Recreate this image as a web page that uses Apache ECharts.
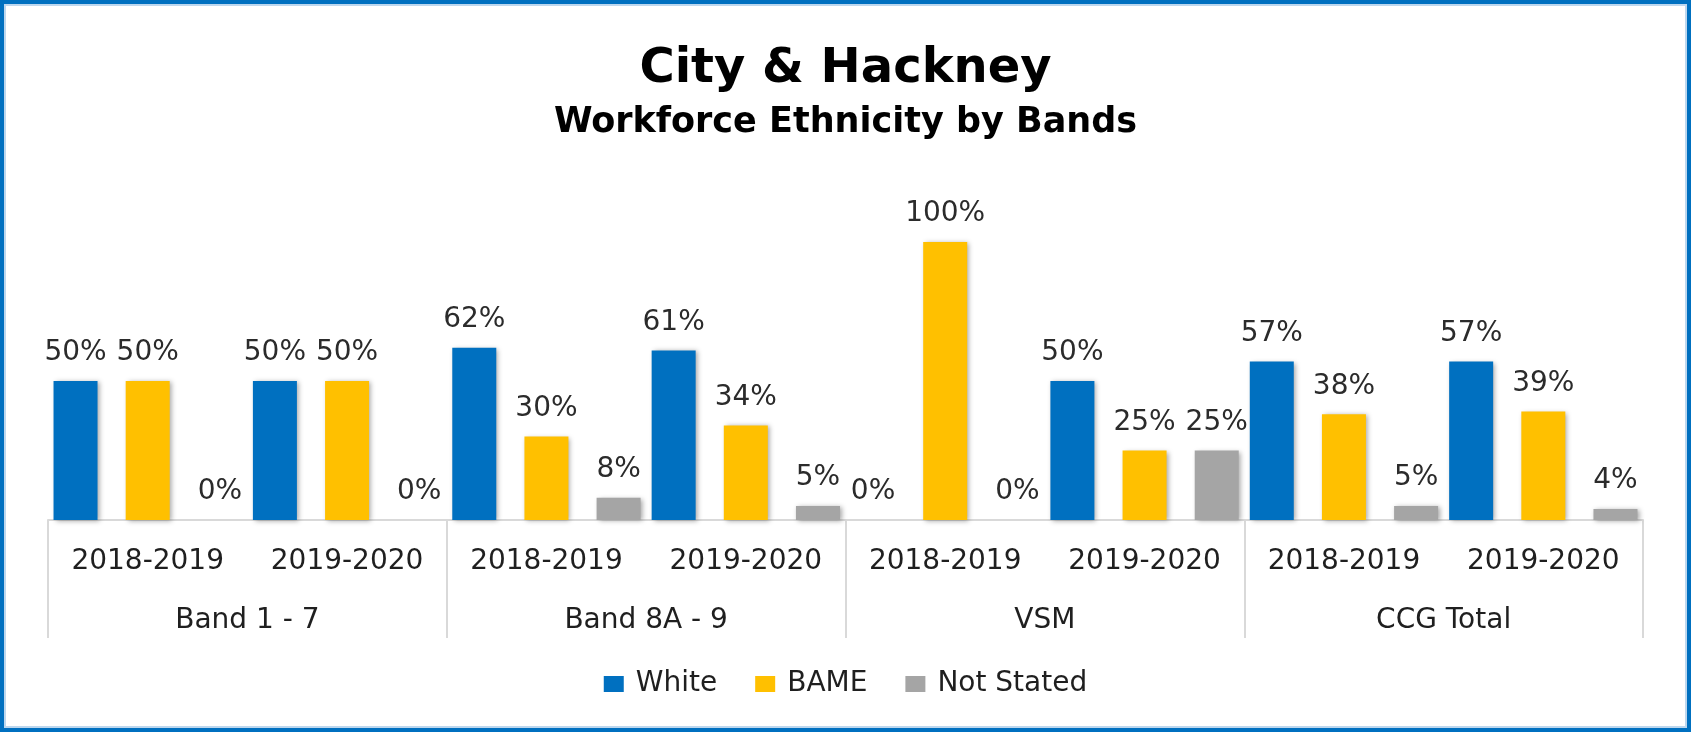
<!DOCTYPE html>
<html>
<head>
<meta charset="utf-8">
<script src="https://cdn.jsdelivr.net/npm/echarts@6/dist/echarts.min.js"></script>
<style>
  html, body { margin: 0; padding: 0; background: #fff; }
  #chart { width: 1691px; height: 732px; }
</style>
</head>
<body>
<div id="chart"></div>
<script>
// ---- data ----
const years = ['2018-2019', '2019-2020', '2018-2019', '2019-2020', '2018-2019', '2019-2020', '2018-2019', '2019-2020'];
const bands = ['Band 1 - 7', 'Band 8A - 9', 'VSM', 'CCG Total'];
const seriesNames = ['White', 'BAME', 'Not Stated'];
const white = [0.50, 0.50, 0.62, 0.61, 0.00, 0.50, 0.57, 0.57];
const bame = [0.50, 0.50, 0.30, 0.34, 1.00, 0.25, 0.38, 0.39];
const notStated = [0.00, 0.00, 0.08, 0.05, 0.00, 0.25, 0.05, 0.04];
const colors = ['#0070C0', '#FFC000', '#A5A5A5'];

const FONT = 'DejaVu Sans';
const chart = echarts.init(document.getElementById('chart'));

function barSeries(name, data, color) {
  return {
    name: name,
    type: 'bar',
    xAxisIndex: 0,
    yAxisIndex: 0,
    data: data,
    barWidth: 44,
    barGap: '64%',
    itemStyle: {
      color: color,
      shadowBlur: 5,
      shadowColor: 'rgba(0,0,0,0.35)',
      shadowOffsetX: 2,
      shadowOffsetY: 1
    },
    label: {
      show: true,
      position: 'top',
      distance: 14,
      fontFamily: FONT,
      fontSize: 28,
      color: '#2b2b2b',
      formatter: p => Math.round(p.value * 100) + '%'
    }
  };
}

chart.setOption({
  animation: false,
  backgroundColor: '#fff',
  title: [
    {
      text: 'City & Hackney',
      left: 'center',
      top: 46,
      padding: 0,
      textStyle: { fontFamily: FONT, fontWeight: 'bold', fontSize: 48, color: '#000' }
    },
    {
      text: 'Workforce Ethnicity by Bands',
      left: 'center',
      top: 105,
      padding: 0,
      textStyle: { fontFamily: FONT, fontWeight: 'bold', fontSize: 35, color: '#000' }
    }
  ],
  legend: {
    data: seriesNames,
    left: 'center',
    top: 665,
    icon: 'rect',
    itemWidth: 20,
    itemHeight: 16,
    itemGap: 38,
    textStyle: { fontFamily: FONT, fontSize: 28, color: '#1f1f1f', padding: [0, 0, 0, 7] }
  },
  grid: { left: 48, right: 48, top: 242, bottom: 212, containLabel: false },
  xAxis: [
    {
      type: 'category',
      data: years,
      position: 'bottom',
      axisLine: { show: true, lineStyle: { color: '#D9D9D9', width: 2 } },
      axisTick: { show: false },
      axisLabel: { margin: 28, fontFamily: FONT, fontSize: 28, color: '#1f1f1f', interval: 0 }
    },
    {
      type: 'category',
      data: bands,
      position: 'bottom',
      axisLine: { show: false },
      axisTick: { show: true, length: 118, lineStyle: { color: '#D9D9D9', width: 2 } },
      axisLabel: { margin: 87, fontFamily: FONT, fontSize: 28, color: '#1f1f1f', interval: 0 }
    }
  ],
  yAxis: {
    type: 'value',
    min: 0,
    max: 1,
    show: false
  },
  series: [
    barSeries(seriesNames[0], white, colors[0]),
    barSeries(seriesNames[1], bame, colors[1]),
    barSeries(seriesNames[2], notStated, colors[2])
  ],
  graphic: [
    {
      type: 'rect',
      shape: { x: 2, y: 2, width: 1687, height: 728 },
      style: { fill: 'none', stroke: '#0070C0', lineWidth: 4 },
      silent: true
    },
    {
      type: 'rect',
      shape: { x: 5, y: 5, width: 1681, height: 722 },
      style: { fill: 'none', stroke: '#BDD7EE', lineWidth: 2 },
      silent: true
    }
  ]
});
</script>
</body>
</html>
